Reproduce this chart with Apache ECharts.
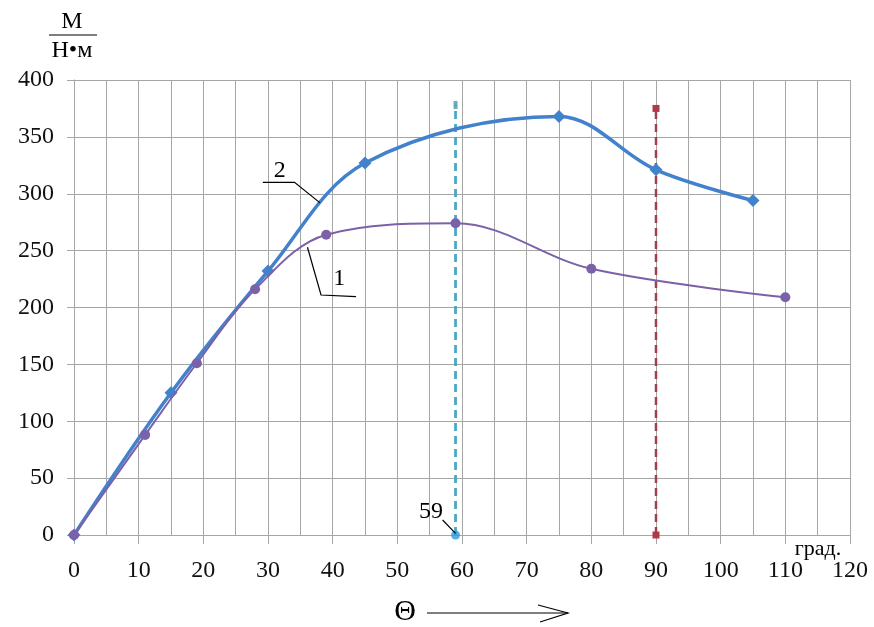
<!DOCTYPE html>
<html><head><meta charset="utf-8">
<script src="https://cdn.jsdelivr.net/npm/echarts@6/dist/echarts.min.js"></script>
<style>html,body{margin:0;padding:0;background:#fff}#c{width:874px;height:627px}</style>
</head><body><div id="c"></div>
<script>
// ---- data ----
const curve1X = [0, 11, 19, 28, 39, 59, 80, 110];
const curve1Y = [0, 88, 151, 216, 264, 274, 234, 209];
const curve2X = [0, 15, 30, 45, 75, 90, 105];
const curve2Y = [0, 125, 232, 327, 368, 321, 294];
const vline59X = [59, 59];
const vline59Y = [0, 378];
const vline90X = [90, 90];
const vline90Y = [0, 375];
const xMin = 0, xMax = 120, xStep = 10;
const yMin = 0, yMax = 400, yStep = 50;
const label59 = '59';
const curveLabels = ['1', '2'];
const xUnit = 'град.';
const yUnitTop = 'М';
const yUnitBottom = 'Н•м';
const xName = 'Θ';

const FONT = "'Liberation Serif','Times New Roman',serif";
const GRID_C = '#a6a6a6';
const zip = (xs, ys) => xs.map((x, i) => [x, ys[i]]);

const chart = echarts.init(document.getElementById('c'), null, {renderer: 'canvas'});
chart.setOption({
  animation: false,
  backgroundColor: '#fff',
  grid: {left: 74, right: 24, top: 80, bottom: 92, containLabel: false},
  xAxis: {
    type: 'value', min: xMin, max: xMax, interval: xStep,
    axisLine: {show: true, lineStyle: {color: GRID_C, width: 1}},
    axisTick: {show: true, inside: false, length: 9, lineStyle: {color: GRID_C}},
    minorTick: {show: false, splitNumber: 2},
    splitLine: {show: true, lineStyle: {color: GRID_C, width: 1}},
    minorSplitLine: {show: true, lineStyle: {color: GRID_C, width: 1}},
    axisLabel: {fontFamily: FONT, fontSize: 24, color: '#111', margin: 24}
  },
  yAxis: {
    type: 'value', min: yMin, max: yMax, interval: yStep,
    axisLine: {show: true, lineStyle: {color: GRID_C, width: 1}},
    axisTick: {show: true, inside: false, length: 7, lineStyle: {color: GRID_C}},
    splitLine: {show: true, lineStyle: {color: GRID_C, width: 1}},
    axisLabel: {fontFamily: FONT, fontSize: 24, color: '#111', margin: 20}
  },
  series: [
    {
      type: 'line', data: zip(curve2X, curve2Y), smooth: 0.35, z: 3,
      symbol: 'diamond', symbolSize: 13,
      lineStyle: {color: '#4282cc', width: 3.5},
      itemStyle: {color: '#4282cc'}
    },
    {
      type: 'line', data: zip(curve1X, curve1Y), smooth: 0.35, z: 4,
      symbol: 'circle', symbolSize: 10,
      lineStyle: {color: '#7b62a8', width: 2},
      itemStyle: {color: '#7b62a8'}
    },
    {
      type: 'line', data: zip(vline59X, vline59Y), z: 2,
      symbol: 'none',
      lineStyle: {color: '#4aa8c4', width: 2.8, type: [8, 5]}
    },
    {
      type: 'scatter', data: [[vline59X[0], vline59Y[0]]], z: 5,
      symbol: 'circle', symbolSize: 9, itemStyle: {color: '#2e9bd6'}
    },
    {
      type: 'scatter', data: [[vline59X[1], vline59Y[1]]], z: 5,
      symbol: 'rect', symbolSize: [4, 8], itemStyle: {color: '#3aa0a8'}
    },
    {
      type: 'line', data: zip(vline90X, vline90Y), z: 2,
      symbol: 'rect', symbolSize: 7,
      lineStyle: {color: '#a0404c', width: 2.5, type: [8, 5]},
      itemStyle: {color: '#b03a48'}
    }
  ]
});

function P(x, y) { return chart.convertToPixel({gridIndex: 0}, [x, y]); }
const ann = [];
function poly(pts, w) {
  ann.push({type: 'polyline', shape: {points: pts.map(p => P(p[0], p[1]))},
    style: {stroke: '#000', lineWidth: w || 1.2, fill: null}, z: 20});
}
function txt(s, x, y, size) {
  const p = P(x, y);
  ann.push({type: 'text', x: p[0], y: p[1], z: 21,
    style: {text: s, font: (size || 24) + 'px ' + FONT, fill: '#000', align: 'center', verticalAlign: 'middle'}});
}
// curve 2 leader
poly([[29.2, 310], [34.1, 310], [38.05, 292]]);
txt(curveLabels[1], 31.8, 320);
// curve 1 leader
poly([[36.1, 253], [38.2, 211], [43.6, 209.5]]);
txt(curveLabels[0], 41, 225);
// 59 leader
poly([[57, 13.2], [59, 1.5]]);
txt(label59, 55.2, 20.5);

// pixel-placed axis titles
ann.push({type: 'text', x: 72, y: 22, z: 21,
  style: {text: yUnitTop, font: '24px ' + FONT, fill: '#000', align: 'center', verticalAlign: 'middle'}});
ann.push({type: 'line', shape: {x1: 49, y1: 35, x2: 97, y2: 35}, style: {stroke: '#000', lineWidth: 1.2}, z: 21});
ann.push({type: 'text', x: 72, y: 51, z: 21,
  style: {text: yUnitBottom, font: '24px ' + FONT, fill: '#000', align: 'center', verticalAlign: 'middle'}});
ann.push({type: 'text', x: 818, y: 549, z: 21,
  style: {text: xUnit, font: '22px ' + FONT, fill: '#000', align: 'center', verticalAlign: 'middle'}});
ann.push({type: 'text', x: 405, y: 612, z: 21,
  style: {text: xName, font: '30px ' + FONT, fill: '#000', align: 'center', verticalAlign: 'middle'}});
ann.push({type: 'line', shape: {x1: 427, y1: 613, x2: 568, y2: 613}, style: {stroke: '#000', lineWidth: 1.2}, z: 21});
ann.push({type: 'polyline', shape: {points: [[538, 605], [568, 613], [540, 622]]}, style: {stroke: '#000', lineWidth: 1.2, fill: null}, z: 21});

chart.setOption({graphic: {elements: ann}});
</script>
</body></html>
